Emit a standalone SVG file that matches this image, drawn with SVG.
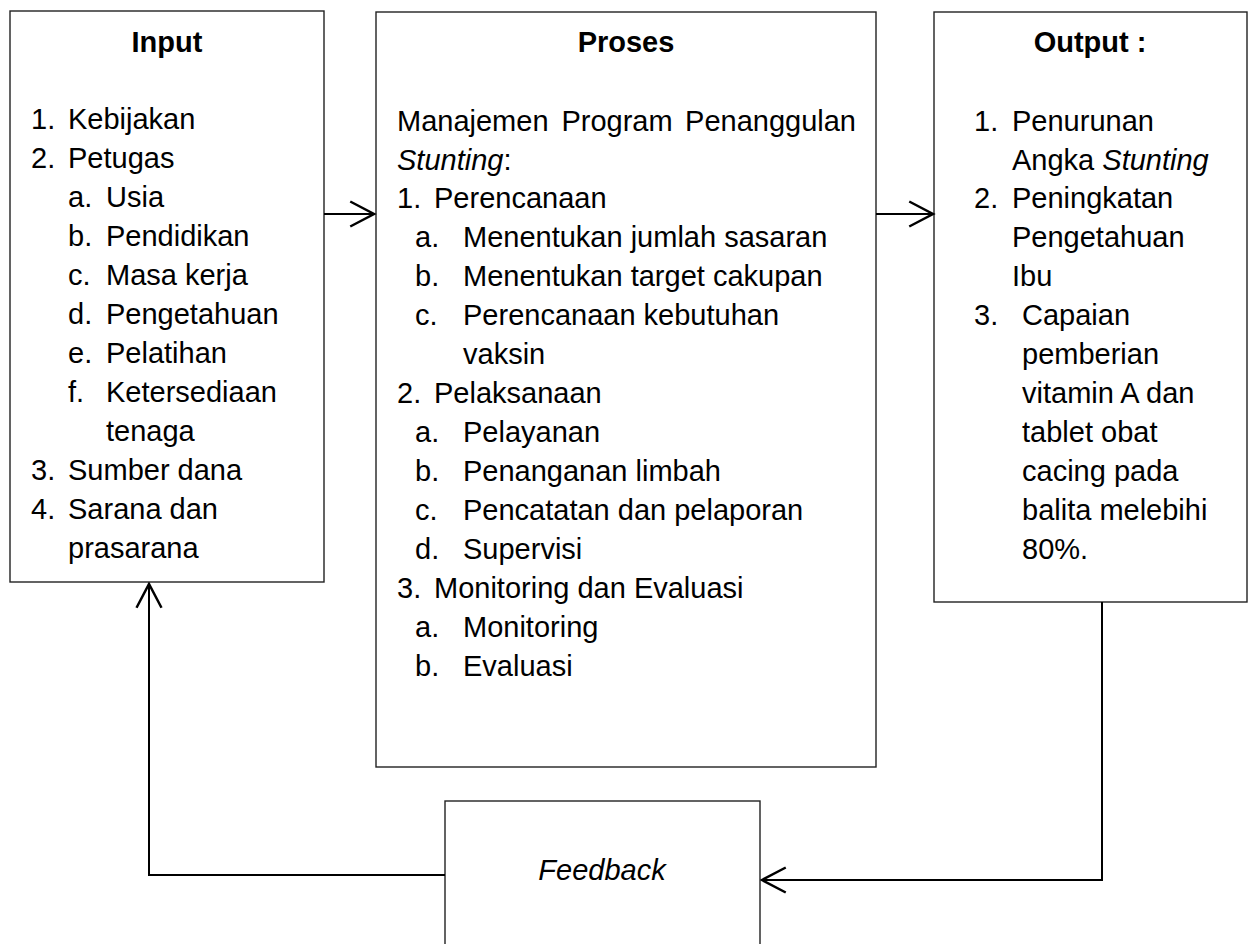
<svg xmlns="http://www.w3.org/2000/svg" width="1253" height="944" viewBox="0 0 1253 944">
<style>
  .box { fill: #ffffff; stroke: #222222; stroke-width: 1.4; }
  .t { font-family: "Liberation Sans", Arial, sans-serif; font-size: 29px; fill: #000000; }
  .b { font-weight: bold; }
  .i { font-style: italic; }
  .mid { text-anchor: middle; }
  .end { text-anchor: end; }
  .con { fill: none; stroke: #000000; stroke-width: 2; }
</style>
<defs>
  <marker id="arr" markerUnits="userSpaceOnUse" markerWidth="30" markerHeight="30" viewBox="-22 -12 24 24" refX="0" refY="0" orient="auto">
    <path d="M-19,-10 L0,0 L-19,10" fill="none" stroke="#000000" stroke-width="2"/>
  </marker>
</defs>
<rect width="1253" height="944" fill="#ffffff"/>

<g id="input">
  <rect class="box" x="10" y="11" width="314" height="571"/>
  <text class="t b mid" x="167" y="52">Input</text>
  <text class="t" x="31" y="129">1.</text><text class="t" x="68" y="129">Kebijakan</text>
  <text class="t" x="31" y="168">2.</text><text class="t" x="68" y="168">Petugas</text>
  <text class="t" x="68" y="207">a.</text><text class="t" x="106" y="207">Usia</text>
  <text class="t" x="68" y="246">b.</text><text class="t" x="106" y="246">Pendidikan</text>
  <text class="t" x="68" y="285">c.</text><text class="t" x="106" y="285">Masa kerja</text>
  <text class="t" x="68" y="324">d.</text><text class="t" x="106" y="324">Pengetahuan</text>
  <text class="t" x="68" y="363">e.</text><text class="t" x="106" y="363">Pelatihan</text>
  <text class="t" x="68" y="402">f.</text><text class="t" x="106" y="402">Ketersediaan</text>
  <text class="t" x="106" y="441">tenaga</text>
  <text class="t" x="31" y="480">3.</text><text class="t" x="68" y="480">Sumber dana</text>
  <text class="t" x="31" y="519">4.</text><text class="t" x="68" y="519">Sarana dan</text>
  <text class="t" x="68" y="558">prasarana</text>
</g>

<g id="proses">
  <rect class="box" x="376" y="12" width="500" height="755"/>
  <text class="t b mid" x="626" y="52">Proses</text>
  <text class="t" x="397" y="131">Manajemen</text>
  <text class="t mid" x="617" y="131">Program</text>
  <text class="t end" x="856" y="131">Penanggulan</text>
  <text class="t" x="397" y="170"><tspan class="i">Stunting</tspan>:</text>
  <text class="t" x="397" y="208">1.</text><text class="t" x="434" y="208">Perencanaan</text>
  <text class="t" x="415" y="247">a.</text><text class="t" x="463" y="247">Menentukan jumlah sasaran</text>
  <text class="t" x="415" y="286">b.</text><text class="t" x="463" y="286">Menentukan target cakupan</text>
  <text class="t" x="415" y="325">c.</text><text class="t" x="463" y="325">Perencanaan kebutuhan</text>
  <text class="t" x="463" y="364">vaksin</text>
  <text class="t" x="397" y="403">2.</text><text class="t" x="434" y="403">Pelaksanaan</text>
  <text class="t" x="415" y="442">a.</text><text class="t" x="463" y="442">Pelayanan</text>
  <text class="t" x="415" y="481">b.</text><text class="t" x="463" y="481">Penanganan limbah</text>
  <text class="t" x="415" y="520">c.</text><text class="t" x="463" y="520">Pencatatan dan pelaporan</text>
  <text class="t" x="415" y="559">d.</text><text class="t" x="463" y="559">Supervisi</text>
  <text class="t" x="397" y="598">3.</text><text class="t" x="434" y="598">Monitoring dan Evaluasi</text>
  <text class="t" x="415" y="637">a.</text><text class="t" x="463" y="637">Monitoring</text>
  <text class="t" x="415" y="676">b.</text><text class="t" x="463" y="676">Evaluasi</text>
</g>

<g id="output">
  <rect class="box" x="934" y="12" width="313" height="590"/>
  <text class="t b mid" x="1090" y="52">Output :</text>
  <text class="t" x="974" y="131">1.</text><text class="t" x="1012" y="131">Penurunan</text>
  <text class="t" x="1012" y="170">Angka <tspan class="i">Stunting</tspan></text>
  <text class="t" x="974" y="208">2.</text><text class="t" x="1012" y="208">Peningkatan</text>
  <text class="t" x="1012" y="247">Pengetahuan</text>
  <text class="t" x="1012" y="286">Ibu</text>
  <text class="t" x="974" y="325">3.</text><text class="t" x="1022" y="325">Capaian</text>
  <text class="t" x="1022" y="364">pemberian</text>
  <text class="t" x="1022" y="403">vitamin A dan</text>
  <text class="t" x="1022" y="442">tablet obat</text>
  <text class="t" x="1022" y="481">cacing pada</text>
  <text class="t" x="1022" y="520">balita melebihi</text>
  <text class="t" x="1022" y="559">80%.</text>
</g>

<g id="feedback">
  <rect class="box" x="445" y="801" width="315" height="200"/>
  <text class="t i mid" x="602" y="880">Feedback</text>
</g>

<g id="connectors">
  <path class="con" d="M324,214 H374" marker-end="url(#arr)"/>
  <path class="con" d="M876,214 H933" marker-end="url(#arr)"/>
  <path class="con" d="M1102,602 V880 H762" marker-end="url(#arr)"/>
  <path class="con" d="M445,875 H149 V584" marker-end="url(#arr)"/>
</g>
</svg>
